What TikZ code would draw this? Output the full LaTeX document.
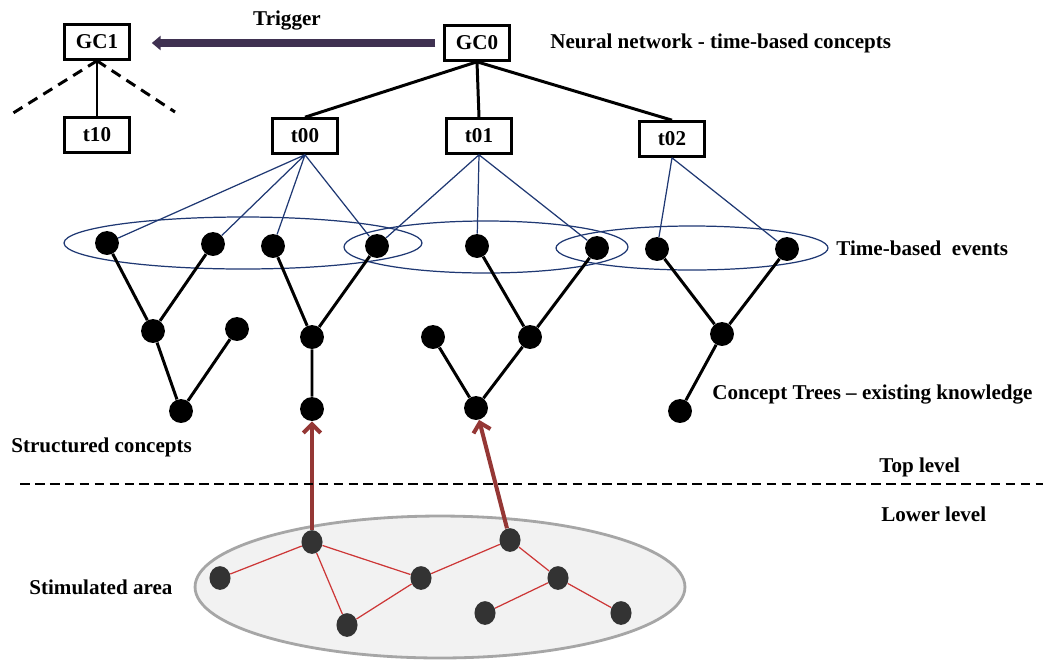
\documentclass[tikz,border=0pt]{standalone}
\usepackage{fontspec}
\setmainfont{Liberation Serif}
\usetikzlibrary{shapes.geometric, arrows.meta}

\definecolor{trigcol}{RGB}{63,49,81}
\definecolor{evtblue}{RGB}{31,56,115}
\definecolor{stimred}{RGB}{149,55,53}
\definecolor{netred}{RGB}{205,55,55}
\definecolor{neurcol}{RGB}{51,51,51}
\definecolor{areafill}{RGB}{242,242,242}
\definecolor{areadraw}{RGB}{166,166,166}

\begin{document}
\begin{tikzpicture}[x=0.02cm, y=-0.02cm,
    font=\bfseries\fontsize{12}{14}\selectfont,
    concept/.style={draw, line width=1.4pt, minimum width=37pt, minimum height=20pt, inner sep=2pt},
    dot/.style={circle, fill=black, inner sep=0pt, minimum size=13.6pt},
    neuron/.style={ellipse, fill=neurcol, inner sep=0pt, minimum width=12pt, minimum height=13.5pt},
    tree/.style={line width=1.7pt},
    link/.style={evtblue, line width=0.7pt},
    txt/.style={anchor=west, inner sep=0pt}]

    \useasboundingbox (0,0) rectangle (1043,660);

    % Stimulated area (lower level)
    \draw[areadraw, fill=areafill, line width=1.6pt] (440,587) ellipse [x radius=4.9cm, y radius=1.42cm];

    % Time-based event groups
    \draw[link] (243,243) ellipse [x radius=3.58cm, y radius=0.52cm];
    \draw[link] (486,247) ellipse [x radius=2.84cm, y radius=0.52cm];
    \draw[link] (692,248) ellipse [x radius=2.72cm, y radius=0.44cm];

    % Global concepts and time nodes
    \node[concept] (gc1) at (97,42) {GC1};
    \node[concept] (gc0) at (477,43) {GC0};
    \node[concept] (t10) at (97,135) {t10};
    \node[concept] (t00) at (305,136) {t00};
    \node[concept] (t01) at (479,136) {t01};
    \node[concept] (t02) at (672,139) {t02};
    \coordinate (gcl) at (10,115);
    \coordinate (gcr) at (175,112);

    % Events
    \node[dot] (e1) at (107,243) {};
    \node[dot] (e2) at (213,244) {};
    \node[dot] (e3) at (273,246) {};
    \node[dot] (e4) at (377,246) {};
    \node[dot] (e5) at (477,246) {};
    \node[dot] (e6) at (597,248) {};
    \node[dot] (e7) at (657,249) {};
    \node[dot] (e8) at (787,249) {};

    % Concept trees
    \node[dot] (m1) at (153,331) {};
    \node[dot] (m2) at (237,329) {};
    \node[dot] (m3) at (312,337) {};
    \node[dot] (m4) at (433,337) {};
    \node[dot] (m5) at (530,337) {};
    \node[dot] (m6) at (722,334) {};
    \node[dot] (b1) at (181,411) {};
    \node[dot] (b2) at (312,409) {};
    \node[dot] (b3) at (476,408) {};
    \node[dot] (b4) at (680,411) {};

    % Neurons
    \node[neuron] (n1) at (312,542) {};
    \node[neuron] (n2) at (510,540) {};
    \node[neuron] (n3) at (220,578) {};
    \node[neuron] (n4) at (421,578) {};
    \node[neuron] (n5) at (558,578) {};
    \node[neuron] (n6) at (347,625) {};
    \node[neuron] (n7) at (485,613) {};
    \node[neuron] (n8) at (621,613) {};

    % Trigger
    \draw[trigcol, line width=4.5pt, -{Triangle[length=5pt, width=8pt]}, shorten <=4.5pt, shorten >=12pt]
        (gc0.west) -- (gc1.east |- gc0.west) node[midway, above=2pt, black] {Trigger};

    % Hierarchy
    \draw[tree] (t10) -- (gc1);
    \draw[tree, dash pattern=on 6pt off 4pt] (gc1.south) -- (gcl) (gc1.south) -- (gcr);
    \draw[tree] (gc0.south) -- (t00.north);
    \draw[tree] (gc0.south) -- (t01.north);
    \draw[tree] (gc0.south) -- (t02.north);

    % Time nodes to events
    \draw[link] (t00.south) -- (e1) (t00.south) -- (e2) (t00.south) -- (e3) (t00.south) -- (e4);
    \draw[link] (t01.south) -- (e4) (t01.south) -- (e5) (t01.south) -- (e6);
    \draw[link] (t02.south) -- (e7) (t02.south) -- (e8);

    % Tree edges
    \draw[tree] (e1) -- (m1) -- (b1) -- (m2);
    \draw[tree] (e2) -- (m1);
    \draw[tree] (e3) -- (m3) -- (b2);
    \draw[tree] (e4) -- (m3);
    \draw[tree] (m4) -- (b3) -- (m5) -- (e6);
    \draw[tree] (e5) -- (m5);
    \draw[tree] (e7) -- (m6) -- (b4);
    \draw[tree] (e8) -- (m6);

    % Neural connections
    \draw[netred, line width=0.7pt] (n3) -- (n1) -- (n6) -- (n4) -- (n1);
    \draw[netred, line width=0.7pt] (n4) -- (n2) -- (n5) -- (n7);
    \draw[netred, line width=0.7pt] (n5) -- (n8);

    % Stimulation
    \draw[stimred, line width=2.3pt, -{Straight Barb[length=5pt, width=10pt]}] (n1) -- (b2);
    \draw[stimred, line width=2.3pt, -{Straight Barb[length=5pt, width=10pt]}] (n2) -- (b3);

    % Level separator
    \draw[line width=0.7pt, dash pattern=on 5.5pt off 3pt] (20,484) -- (1043,484);

    % Labels
    \node[txt] (lnn) at (550,43) {Neural network - time-based concepts};
    \node[txt] (lev) at (836,248) {Time-based\ \ events};
    \node[txt] (lct) at (712,394) {Concept Trees -- existing knowledge};
    \node[txt] (lsc) at (11,447) {Structured concepts};
    \node[txt] (ltop) at (879,467) {Top level};
    \node[txt] (llow) at (881,514) {Lower level};
    \node[txt] (lsa) at (29,587) {Stimulated area};

\end{tikzpicture}
\end{document}
